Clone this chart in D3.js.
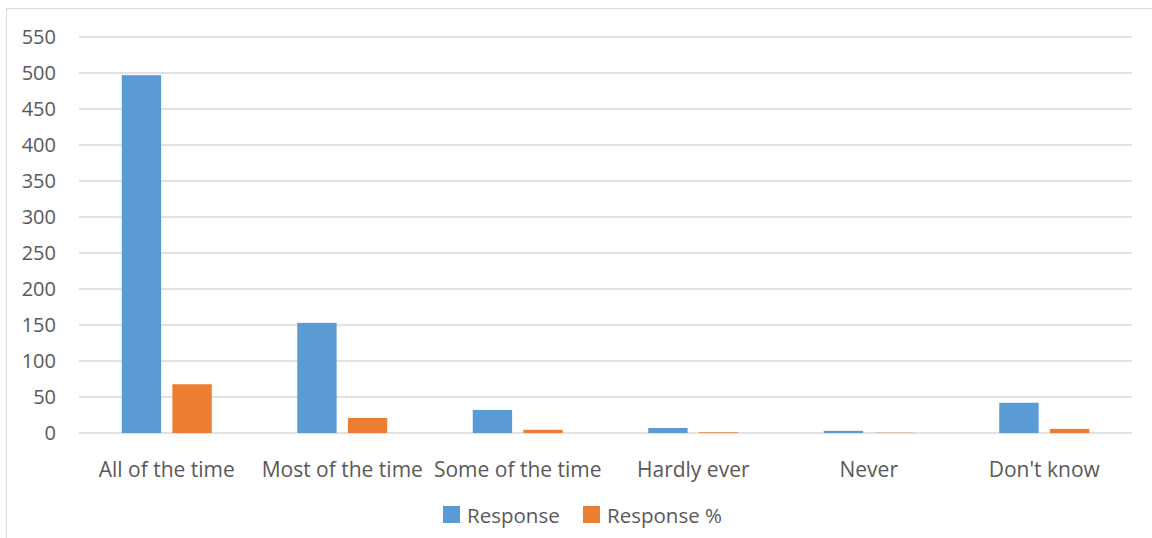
<!DOCTYPE html>
<html>
<head>
<meta charset="utf-8">
<script src="https://cdn.jsdelivr.net/npm/d3@7"></script>
<style>
  html, body { margin: 0; padding: 0; background: #fff; }
  text { font-family: "Open Sans", "Liberation Sans", sans-serif; fill: #595959; }
</style>
</head>
<body>
<svg id="chart" width="1152" height="538"></svg>
<script>
// Survey answers and their counts / shares
const categories = ["All of the time", "Most of the time", "Some of the time", "Hardly ever", "Never", "Don't know"];
const responses = [497, 153, 32, 7, 3, 42];
const responsePct = [67.7, 20.8, 4.4, 1.0, 0.4, 5.7];
const seriesNames = ["Response", "Response %"];
const seriesColors = ["#5B9BD5", "#ED7D31"];
const yTicks = [0, 50, 100, 150, 200, 250, 300, 350, 400, 450, 500, 550];

const svg = d3.select("#chart");
const margin = { left: 79, right: 20, top: 37, bottom: 105 };
const W = 1152, H = 538;

// outer chart frame
svg.append("rect")
  .attr("x", 6.5).attr("y", 8.5)
  .attr("width", 1160).attr("height", 540)
  .attr("fill", "none").attr("stroke", "#D9D9D9").attr("stroke-width", 1);

const x = d3.scaleBand().domain(categories).range([margin.left, W - margin.right]);
const y = d3.scaleLinear().domain([0, 550]).range([H - margin.bottom, margin.top]);

// horizontal gridlines
svg.append("g").selectAll("line").data(yTicks).join("line")
  .attr("x1", margin.left).attr("x2", W - margin.right)
  .attr("y1", d => y(d)).attr("y2", d => y(d))
  .attr("stroke", "#D9D9D9").attr("stroke-width", 1.5);

// y axis labels
const yAxis = d3.axisLeft(y).tickValues(yTicks).tickSize(0).tickPadding(23);
const gy = svg.append("g").attr("transform", `translate(${margin.left},0)`).call(yAxis);
gy.select(".domain").remove();
gy.selectAll("text").attr("font-size", 20).style("fill", "#595959")
  .style("font-family", "\"Open Sans\", sans-serif");

// x axis labels
const xAxis = d3.axisBottom(x).tickSize(0).tickPadding(29);
const gx = svg.append("g").attr("transform", `translate(0,${y(0)})`).call(xAxis);
gx.select(".domain").remove();
gx.selectAll("text").attr("font-size", 21).style("fill", "#595959")
  .style("font-family", "\"Open Sans\", sans-serif");

// grouped bars
const inner = d3.scaleBand().domain([0, 1]).range([0, 90]).paddingInner(0.2222);
const groupOffset = (x.bandwidth() - 90) / 2;
const series = [responses, responsePct];
series.forEach((vals, si) => {
  svg.append("g").selectAll("rect").data(vals).join("rect")
    .attr("x", (d, i) => x(categories[i]) + groupOffset + inner(si))
    .attr("width", inner.bandwidth())
    .attr("y", d => y(d))
    .attr("height", d => y(0) - y(d))
    .attr("fill", seriesColors[si]);
});

// legend
const legend = svg.append("g").attr("transform", "translate(443,506)");
const legendX = [0, 140];
seriesNames.forEach((name, i) => {
  const g = legend.append("g").attr("transform", `translate(${legendX[i]},0)`);
  g.append("rect").attr("width", 17).attr("height", 17).attr("fill", seriesColors[i]);
  g.append("text").attr("x", 24).attr("y", 10).attr("dy", "0.35em")
    .attr("font-size", 20.5).text(name);
});
</script>
</body>
</html>
